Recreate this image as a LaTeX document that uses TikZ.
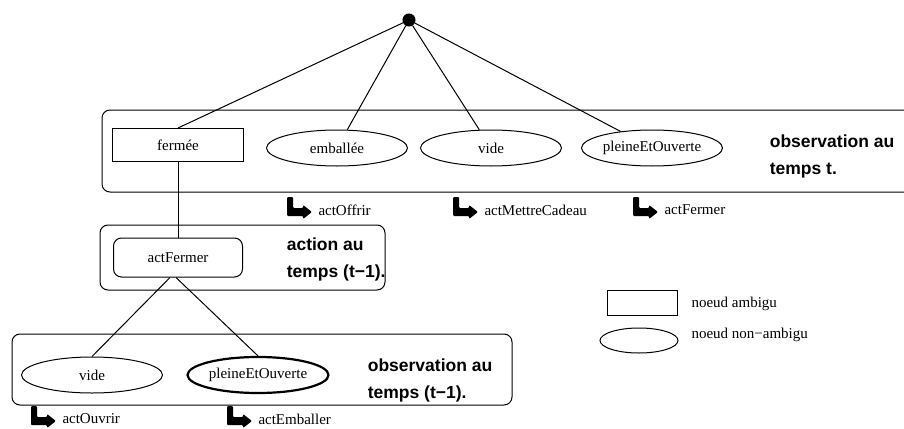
\documentclass[tikz,border=0pt]{standalone}
\usepackage{fontspec}
\setmainfont{Liberation Serif}
\setsansfont{Liberation Sans}
\usetikzlibrary{shapes,arrows,positioning}

\begin{document}
\begin{tikzpicture}[x=1pt, y=-1pt, line width=1pt, font=\fontsize{15}{18}\selectfont,
    state/.style={draw, rectangle, minimum width=131pt, minimum height=33pt},
    obs/.style={draw, ellipse, inner sep=0pt, minimum width=141pt, minimum height=36pt},
    group/.style={draw, rectangle, rounded corners=8pt},
    caption/.style={anchor=west, align=left, font=\sffamily\bfseries\fontsize{17.5}{27}\selectfont},
    act/.style={anchor=west, inner sep=0pt},
    pics/turn/.style={code={\fill[rounded corners=1pt] (-31,-13) -- (-25,-13) -- (-25,-2) -- (-15,-2) -- (-15,-5) -- (-6,2) -- (-15,9) -- (-15,6) -- (-31,6) -- cycle;}}]
        \useasboundingbox (0,0) rectangle (904,428);

        % Group boxes
        \node (obst) [group, minimum width=814pt, minimum height=82pt] at (509,151) {};
        \node (actbox) [group, minimum width=285pt, minimum height=65pt] at (242.5,257.5) {};
        \node (obsprev) [group, minimum width=500pt, minimum height=71pt] at (262,369.5) {};

        % Observation at t
        \node (root) [draw, circle, fill=black, inner sep=0pt, minimum size=12pt] at (409,20) {};
        \node (ferme) [state] at (178,145) {fermée};
        \node (emballee) [obs] at (337,148) {emballée};
        \node (vide) [obs] at (491,148) {vide};
        \node (pleine) [obs] at (652,148) {pleineEtOuverte};
        \node (capt) [caption] at (766,156.5) {observation au\\temps t.};

        \node (offrir) [act] at (318,210) {actOffrir};
        \node (cadeau) [act] at (484,210) {actMettreCadeau};
        \node (fermer) [act] at (664,210) {actFermer};
        \pic at (offrir.west) {turn};
        \pic at (cadeau.west) {turn};
        \pic at (fermer.west) {turn};

        % Action at t-1
        \node (actfermer) [draw, rectangle, rounded corners=8pt, minimum width=129pt, minimum height=39pt] at (178,257.5) {actFermer};
        \node (capa) [caption] at (283,259.5) {action au\\temps (t−1).};

        % Observation at t-1
        \node (vide2) [obs] at (92,375) {vide};
        \node (pleine2) [obs, line width=2.2pt] at (258,375) {pleineEtOuverte};
        \node (capp) [caption] at (364,380) {observation au\\temps (t−1).};

        \node (ouvrir) [act] at (62,419) {actOuvrir};
        \node (emballer) [act] at (258,419) {actEmballer};
        \pic at (ouvrir.west) {turn};
        \pic at (emballer.west) {turn};

        % Legend
        \node (legrect) [draw, rectangle, minimum width=70pt, minimum height=25pt] at (642,302.5) {};
        \node (legamb) [act] at (691,304) {noeud ambigu};
        \node (legell) [draw, ellipse, minimum width=78pt, minimum height=25pt] at (639,340.5) {};
        \node (legnon) [act] at (691,335) {noeud non−ambigu};

        % Edges
        \draw (root) -- (ferme.north);
        \draw (root) -- (emballee);
        \draw (root) -- (vide);
        \draw (root) -- (pleine);
        \draw (ferme) -- (actfermer);
        \draw ([xshift=-8pt]actfermer.south) -- (vide2.north);
        \draw ([xshift=-2pt]actfermer.south) -- (pleine2.north);
    \end{tikzpicture}
\end{document}
